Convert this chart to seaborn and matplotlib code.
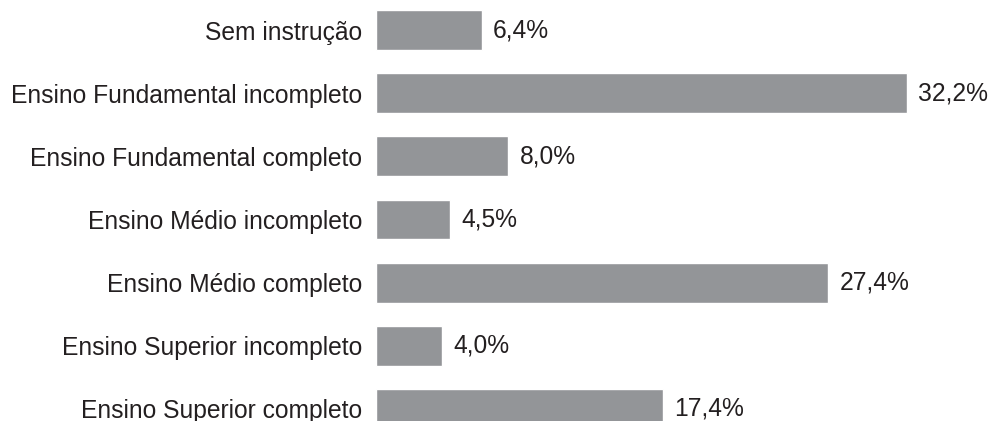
import matplotlib
matplotlib.use("Agg")
import matplotlib.pyplot as plt
import seaborn as sns
import pandas as pd

categories = ["Sem instrução", "Ensino Fundamental incompleto", "Ensino Fundamental completo",
              "Ensino Médio incompleto", "Ensino Médio completo", "Ensino Superior incompleto",
              "Ensino Superior completo"]
values = [6.4, 32.2, 8.0, 4.5, 27.4, 4.0, 17.4]
labels = ["6,4%", "32,2%", "8,0%", "4,5%", "27,4%", "4,0%", "17,4%"]

sns.set_theme(style="white")
plt.rcParams['font.family'] = ['Liberation Sans', 'DejaVu Sans']

df = pd.DataFrame({"cat": categories, "val": values})
fig = plt.figure(figsize=(9.88, 4.21), dpi=100)
ax = fig.add_axes([376/988, 0, 1 - 376/988 - 0.002, 1])
sns.barplot(data=df, x="val", y="cat", color="#939598", saturation=1, width=0.633, ax=ax)
for i, (v, l) in enumerate(zip(values, labels)):
    ax.text(v + 0.7, i, l, va="center", ha="left", fontsize=17.7, color="#231f20")
ax.set_xlim(0, 37)
ax.set_ylim(6.19, -0.475)
ax.set_xlabel("")
ax.set_ylabel("")
ax.set_xticks([])
ax.tick_params(axis="y", length=0, pad=10, labelsize=17.7, labelcolor="#231f20")
for s in ax.spines.values():
    s.set_visible(False)
fig.savefig("out.png", dpi=100, facecolor="white")
